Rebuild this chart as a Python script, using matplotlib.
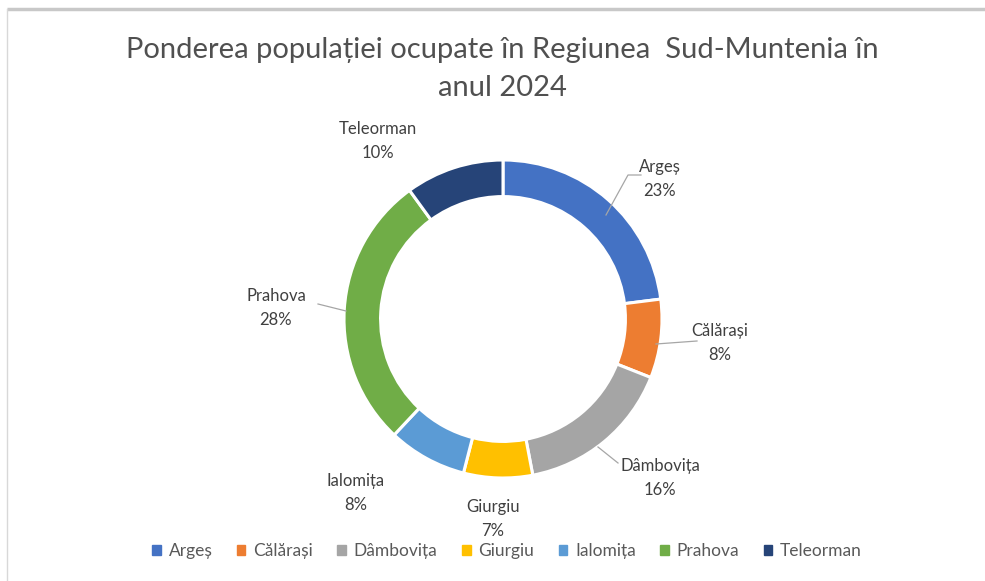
import matplotlib
matplotlib.use("Agg")
import matplotlib.pyplot as plt
from matplotlib.patches import Rectangle

plt.rcParams['font.family'] = ['Lato', 'DejaVu Sans']

categories = ["Argeș", "Călărași", "Dâmbovița", "Giurgiu", "Ialomița", "Prahova", "Teleorman"]
values = [23, 8, 16, 7, 8, 28, 10]
colors = ["#4472C4", "#ED7D31", "#A5A5A5", "#FFC000", "#5B9BD5", "#70AD47", "#264478"]
title = "Ponderea populației ocupate în Regiunea  Sud-Muntenia în\nanul 2024"

W, H = 985, 581

def P(x, y):
    return (x, H - y)

# label text positions (pixel coords, y down)
label_pos = [(660, 179), (720, 343), (660, 478), (493, 519), (356, 493), (276, 308), (378, 141)]
leaders = {0: [(606, 215), (628, 175), (641, 175)],
           1: [(656, 344), (697, 341)],
           2: [(598, 447), (618, 463)],
           5: [(318, 304), (346, 311)]}

fig = plt.figure(figsize=(W / 100, H / 100), dpi=100)
ax = fig.add_axes([0, 0, 1, 1])

cx, cy, r = 503, 319, 159
wedges, _ = ax.pie(values, colors=colors, startangle=90, counterclock=False,
                   center=P(cx, cy), radius=r, frame=True,
                   wedgeprops=dict(width=r * 0.23, edgecolor='white', linewidth=2.2))
ax.set_xlim(0, W)
ax.set_ylim(0, H)
ax.axis('off')

# outer frame lines
ax.plot(*zip(P(7, 9), P(W, 9)), color="#c8c8c8", lw=2.5, solid_capstyle='butt')
ax.plot(*zip(P(7, 9), P(7, H)), color="#d8d8d8", lw=1.0)

for i, (cat, v) in enumerate(zip(categories, values)):
    x, y = P(*label_pos[i])
    ax.text(x, y, f"{cat}\n{v}%", ha='center', va='center', fontsize=12,
            color="#404040", linespacing=1.55)
for i, pts in leaders.items():
    xs, ys = zip(*[P(*p) for p in pts])
    ax.plot(xs, ys, color="#a6a6a6", lw=0.9)

ax.text(*P(W / 2 + 10, 69), title, ha='center', va='center', fontsize=21,
        color="#505050", linespacing=1.55)

handles = [Rectangle((0, 0), 1, 1, color=c) for c in colors]
leg = fig.legend(handles, categories, loc='center', bbox_to_anchor=(507 / W, 1 - 551 / H),
                 ncol=7, frameon=False, fontsize=12.5, handlelength=0.5, handleheight=0.5,
                 handletextpad=0.45, columnspacing=1.4, labelcolor="#595959")

fig.savefig("out.png", dpi=100, facecolor='white')
